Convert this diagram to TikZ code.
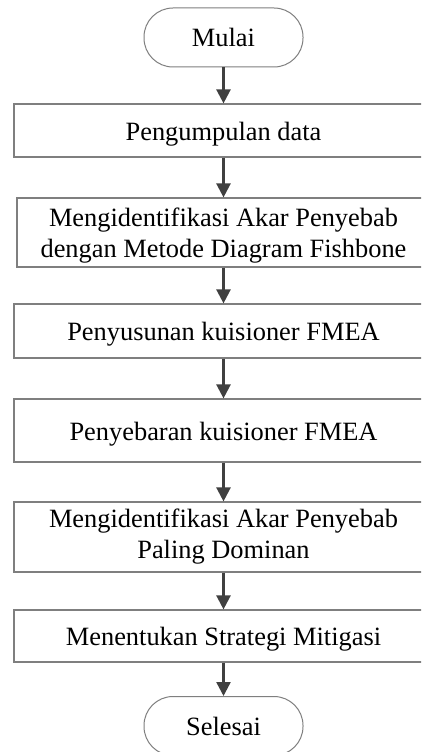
\documentclass[tikz,border=0pt]{standalone}
\usepackage{fontspec}
\setmainfont{Liberation Serif}
\usetikzlibrary{arrows.meta}
\definecolor{boxgray}{HTML}{7F7F7F}
\definecolor{arrgray}{HTML}{404040}
\begin{document}
\begin{tikzpicture}[x=1pt,y=1pt,
  every node/.style={font=\fontsize{26.4}{31}\selectfont, text=black, align=center, inner sep=0pt},
  oneline/.style={text height=19pt, text depth=0pt},
  stepbox/.style={draw=boxgray, line width=1.2pt, rectangle, minimum width=419pt},
  term/.style={draw=boxgray, line width=1pt, rectangle, rounded corners=29pt, minimum width=159pt, minimum height=59pt, oneline},
  arr/.style={draw=arrgray, line width=2.4pt, -{Triangle[width=14pt,length=14pt]}}]
\clip (0,0) rectangle (421,-752);
\fill[white] (0,0) rectangle (421,-752);
\node[term] (t1) at (223.5,-37.5) {Mulai};
\node[stepbox, oneline, minimum height=53pt] (b1) at (223.5,-130.5) {Pengumpulan data};
\node[stepbox, text depth=0pt, minimum height=69pt, minimum width=413pt] (b2) at (223.5,-232.5) {Mengidentifikasi Akar Penyebab\\dengan Metode Diagram Fishbone};
\node[stepbox, oneline, minimum height=54pt] (b3) at (223.5,-331) {Penyusunan kuisioner FMEA};
\node[stepbox, oneline, minimum height=63pt] (b4) at (223.5,-430.5) {Penyebaran kuisioner FMEA};
\node[stepbox, minimum height=70pt] (b5) at (223.5,-537) {Mengidentifikasi Akar Penyebab\\Paling Dominan};
\node[stepbox, oneline, minimum height=52pt] (b6) at (223.5,-636) {Menentukan Strategi Mitigasi};
\node[term] (t2) at (223.5,-726) {Selesai};
\draw[arr] (t1.south) -- (b1.north);
\draw[arr] (b1.south) -- (b2.north);
\draw[arr] (b2.south) -- (b3.north);
\draw[arr] (b3.south) -- (b4.north);
\draw[arr] (b4.south) -- (b5.north);
\draw[arr] (b5.south) -- (b6.north);
\draw[arr] (b6.south) -- (t2.north);
\end{tikzpicture}
\end{document}
